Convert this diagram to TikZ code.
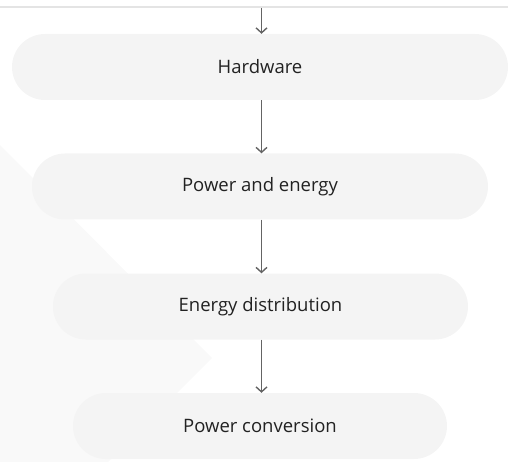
\documentclass[tikz,border=0pt]{standalone}
\usepackage{fontspec}
\setmainfont{Open Sans}
\usetikzlibrary{arrows.meta}
\definecolor{boxgray}{RGB}{244, 244, 244}
\definecolor{shadegray}{RGB}{249, 249, 249}
\definecolor{rulegray}{RGB}{228, 228, 228}
\definecolor{arrowgray}{RGB}{100, 100, 100}
\definecolor{textdark}{RGB}{34, 34, 34}

\tikzset{
  stage/.style={rectangle, rounded corners=33pt, fill=boxgray, minimum height=66pt,
    text=textdark, font=\fontsize{18.5}{22}\selectfont, inner sep=0pt},
  flow/.style={arrowgray, line width=1.4pt, -{Straight Barb[length=5pt,width=11pt,line width=1.4pt]}}
}

\begin{document}
\begin{tikzpicture}[x=1pt,y=-1pt]
            \useasboundingbox (0,0) rectangle (508,462);
            \fill[shadegray] (0,145) -- (212,358) -- (108,462) -- (0,462) -- cycle;
            \draw[rulegray, line width=2pt] (0,7) -- (508,7);
            \coordinate (top) at (261.5,8);

            \node[stage,minimum width=496pt] (hw) at (260,67) {Hardware};
            \node[stage,minimum width=456pt] (pe) at (260,186.5) {Power and energy};
            \node[stage,minimum width=415pt] (ed) at (260.5,306.5) {Energy distribution};
            \node[stage,minimum width=374pt] (pc) at (260,426) {Power conversion};

            \draw[flow] (top) -- (top |- hw.north);
            \draw[flow] (top |- hw.south) -- (top |- pe.north);
            \draw[flow] (top |- pe.south) -- (top |- ed.north);
            \draw[flow] (top |- ed.south) -- (top |- pc.north);
        \end{tikzpicture}
\end{document}
